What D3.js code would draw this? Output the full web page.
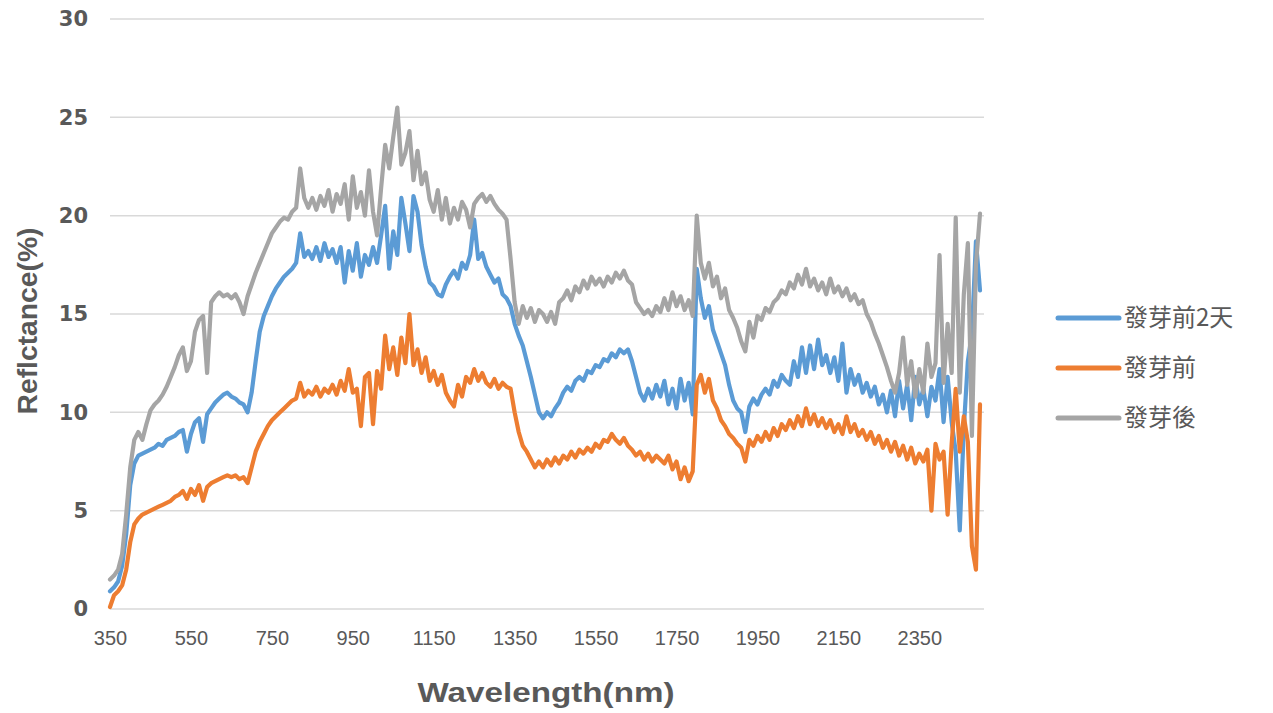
<!DOCTYPE html>
<html><head><meta charset="utf-8">
<script src="https://cdn.jsdelivr.net/npm/d3@7"></script>
<style>
html,body{margin:0;padding:0;background:#fff;}
svg{display:block;}
</style></head>
<body>
<svg id="chart" width="1273" height="713"></svg>
<script>
// ---------- data ----------
const wavelengths = d3.range(350, 2501, 10); // nm, 216 samples
const xTickValues = [350, 550, 750, 950, 1150, 1350, 1550, 1750, 1950, 2150, 2350];
const yTickValues = [0, 5, 10, 15, 20, 25, 30];
const seriesNames = ["發芽前2天", "發芽前", "發芽後"];
const seriesColors = ["#5B9BD5", "#ED7D31", "#A5A5A5"];

const before2Days = [
 0.9,1.1,1.4,2.2,3.8,6.3,7.4,7.8,7.9,8.0,
 8.1,8.2,8.4,8.3,8.6,8.7,8.8,9.0,9.1,8.0,
 8.9,9.5,9.7,8.5,9.9,10.2,10.5,10.7,10.9,11.0,
 10.8,10.7,10.5,10.4,10.0,11.0,12.6,14.1,14.9,15.4,
 15.9,16.3,16.6,16.9,17.1,17.3,17.6,19.1,17.9,18.2,
 17.8,18.4,17.7,18.6,17.9,18.3,17.6,18.4,16.6,18.2,
 17.2,18.6,16.9,18.0,17.5,18.4,17.6,19.0,20.5,17.3,
 19.2,18.0,20.9,19.6,18.2,21.0,20.2,18.5,17.4,16.6,
 16.4,16.0,15.9,16.5,16.9,17.2,16.8,17.6,17.3,18.0,
 19.8,17.8,18.1,17.4,17.0,16.6,16.8,16.0,15.8,15.4,
 14.5,13.9,13.4,12.6,11.8,10.9,10.0,9.7,10.0,9.8,
 10.2,10.5,11.0,11.3,11.1,11.6,11.8,11.6,12.1,12.0,
 12.4,12.3,12.7,12.6,13.0,12.8,13.2,13.0,13.2,12.6,
 11.8,11.0,10.6,11.2,10.7,11.4,10.8,11.6,10.4,11.2,
 10.2,11.7,10.6,11.5,9.9,17.3,15.8,14.8,15.4,14.2,
 13.6,13.0,12.4,11.4,10.6,10.2,10.0,9.0,10.3,10.7,
 10.4,10.9,11.2,10.9,11.6,11.3,11.9,11.6,11.4,12.6,
 11.8,13.3,12.0,13.4,12.2,13.7,12.4,12.9,12.0,12.8,
 11.6,13.5,11.0,12.2,11.4,11.9,11.0,11.5,10.8,11.3,
 10.4,10.9,10.0,11.1,9.8,11.6,10.2,11.4,9.6,11.8,
 10.4,11.2,9.8,11.3,10.6,12.2,9.5,11.8,9.5,8.0,
 4.0,9.2,12.6,14.0,18.7,16.2
];

const beforeGerm = [
 0.1,0.7,0.9,1.2,2.0,3.4,4.3,4.6,4.8,4.9,
 5.0,5.1,5.2,5.3,5.4,5.5,5.7,5.8,6.0,5.6,
 6.1,5.8,6.3,5.5,6.2,6.4,6.5,6.6,6.7,6.8,
 6.7,6.8,6.6,6.7,6.4,7.2,8.0,8.5,8.9,9.3,
 9.6,9.8,10.0,10.2,10.4,10.6,10.7,11.5,10.8,11.1,
 10.9,11.3,10.8,11.2,11.0,11.4,10.9,11.6,11.1,12.2,
 11.0,11.2,9.3,11.8,12.0,9.4,12.1,11.2,13.9,12.2,
 13.3,11.9,13.8,12.5,15.0,12.4,13.2,12.0,12.8,11.6,
 12.1,11.4,11.9,11.0,10.6,10.3,11.4,10.8,11.8,11.5,
 12.2,11.6,12.0,11.5,11.3,11.7,11.2,11.5,11.3,11.2,
 10.0,9.0,8.3,8.0,7.6,7.2,7.5,7.2,7.6,7.3,
 7.7,7.4,7.8,7.6,8.0,7.7,8.1,7.9,8.2,8.0,
 8.4,8.2,8.6,8.5,8.9,8.6,8.4,8.7,8.3,8.1,
 7.8,8.0,7.6,7.9,7.5,7.8,7.6,7.4,7.8,7.1,
 7.5,6.6,7.2,6.5,7.0,11.4,11.9,11.0,11.7,10.6,
 10.2,9.6,9.3,8.9,8.7,8.4,8.2,7.5,8.6,8.3,
 8.8,8.5,9.0,8.6,9.2,8.8,9.4,9.1,9.6,9.2,
 9.8,9.3,10.2,9.4,9.9,9.3,9.7,9.2,9.6,9.0,
 9.4,8.9,9.8,9.0,9.4,8.8,9.1,8.6,9.0,8.4,
 8.8,8.2,8.6,8.0,8.5,7.8,8.3,7.6,8.2,7.4,
 7.9,7.5,8.1,5.0,8.4,7.6,8.0,4.8,8.4,11.2,
 8.0,9.8,8.5,3.2,2.0,10.4
];

const afterGerm = [
 1.5,1.7,2.0,2.8,4.8,7.2,8.6,9.0,8.6,9.4,
 10.1,10.4,10.6,10.9,11.3,11.8,12.3,12.9,13.3,12.1,
 12.6,14.1,14.7,14.9,12.0,15.6,15.9,16.1,15.9,16.0,
 15.8,16.0,15.6,15.0,15.9,16.5,17.1,17.6,18.1,18.6,
 19.1,19.4,19.7,19.9,19.8,20.2,20.4,22.4,20.9,20.4,
 20.9,20.3,21.0,20.5,21.3,20.2,21.1,20.6,21.6,19.8,
 22.0,20.4,21.2,20.0,22.3,20.2,19.0,21.4,23.6,22.4,
 24.0,25.5,22.6,23.2,24.3,21.8,23.3,21.6,22.2,20.8,
 20.2,21.3,19.8,20.9,19.6,20.4,19.8,20.7,20.3,19.4,
 20.6,20.9,21.1,20.7,21.0,20.6,20.3,20.1,19.8,17.8,
 15.6,14.5,15.4,14.8,15.3,14.6,15.2,15.0,14.6,15.1,
 14.5,15.6,15.8,16.2,15.7,16.4,16.1,16.7,16.3,16.9,
 16.5,16.8,16.4,16.9,16.6,17.1,16.8,17.2,16.7,16.5,
 15.6,15.3,15.0,15.2,14.9,15.4,15.1,15.8,15.2,16.1,
 15.4,15.9,15.2,15.7,14.9,20.0,17.6,16.8,17.6,16.4,
 16.9,15.8,16.3,15.2,14.8,14.3,13.6,13.1,14.6,13.8,
 14.9,14.7,15.3,15.1,15.6,15.8,16.2,16.0,16.6,16.3,
 17.0,16.5,17.3,16.4,16.8,16.2,16.6,16.0,16.8,16.1,
 16.4,15.9,16.3,15.7,16.0,15.5,15.7,15.0,14.6,14.0,
 13.5,12.9,12.3,11.6,11.0,12.0,13.8,11.4,12.6,10.8,
 12.2,11.0,13.5,11.8,12.5,18.0,11.5,14.5,12.0,19.9,
 11.0,16.0,18.6,8.8,17.5,20.1
];

const seriesValues = [before2Days, beforeGerm, afterGerm];

// ---------- chart ----------
const svg = d3.select("#chart");
const x = d3.scaleLinear().domain([350, 2500]).range([110, 980]);
const y = d3.scaleLinear().domain([0, 30]).range([609, 19]);
const gridRight = 984;

// gridlines
svg.append("g").selectAll("line").data(yTickValues).join("line")
  .attr("x1", 110).attr("x2", gridRight)
  .attr("y1", d => y(d)).attr("y2", d => y(d))
  .attr("stroke", "#d9d9d9").attr("stroke-width", 1.5);

// y axis labels
const yAxis = d3.axisLeft(y).tickValues(yTickValues).tickSize(0).tickPadding(0);
const gy = svg.append("g").attr("transform", "translate(88,0)").call(yAxis);
gy.select(".domain").remove();
gy.selectAll("text")
  .attr("fill", "#595959")
  .style("font-family", "'DejaVu Sans', sans-serif")
  .style("font-weight", "bold")
  .style("font-size", "21px");

// x axis labels
const xAxis = d3.axisBottom(x).tickValues(xTickValues).tickSize(0).tickPadding(0).tickFormat(d3.format("d"));
const gx = svg.append("g").attr("transform", "translate(0,631)").call(xAxis);
gx.select(".domain").remove();
gx.selectAll("text")
  .attr("fill", "#595959")
  .style("font-family", "'Liberation Sans Narrow', 'Liberation Sans', sans-serif")
  .style("font-size", "20px");

// lines
const line = d3.line()
  .x((d, i) => x(wavelengths[i]))
  .y(d => y(d));

svg.append("g").selectAll("path").data(seriesValues).join("path")
  .attr("d", d => line(d))
  .attr("fill", "none")
  .attr("stroke", (d, i) => seriesColors[i])
  .attr("stroke-width", 4.2)
  .attr("stroke-linejoin", "round")
  .attr("stroke-linecap", "round");

// axis titles
svg.append("text")
  .attr("x", 546).attr("y", 702)
  .attr("text-anchor", "middle")
  .attr("fill", "#595959")
  .style("font-family", "'Liberation Sans', sans-serif")
  .style("font-weight", "bold")
  .style("font-size", "28px")
  .attr("textLength", 257).attr("lengthAdjust", "spacingAndGlyphs")
  .text("Wavelength(nm)");

svg.append("text")
  .attr("transform", "translate(37,321) rotate(-90)")
  .attr("text-anchor", "middle")
  .attr("fill", "#595959")
  .style("font-family", "'Liberation Sans', sans-serif")
  .style("font-weight", "bold")
  .style("font-size", "27px")
  .attr("textLength", 187).attr("lengthAdjust", "spacingAndGlyphs")
  .text("Reflctance(%)");

// legend
const legendY = [318, 368, 418];
const lg = svg.append("g").selectAll("g").data(seriesNames).join("g")
  .attr("transform", (d, i) => `translate(0,${legendY[i]})`);
lg.append("line")
  .attr("x1", 1058).attr("x2", 1119).attr("y1", 0).attr("y2", 0)
  .attr("stroke", (d, i) => seriesColors[i])
  .attr("stroke-width", 5).attr("stroke-linecap", "round");
lg.append("text")
  .attr("x", 1124).attr("y", 0).attr("dy", "0.35em")
  .attr("fill", "#595959")
  .style("font-family", "'Noto Sans CJK TC', 'Noto Sans CJK SC', sans-serif")
  .style("font-size", "24px")
  .text(d => d);
</script>
</body></html>
